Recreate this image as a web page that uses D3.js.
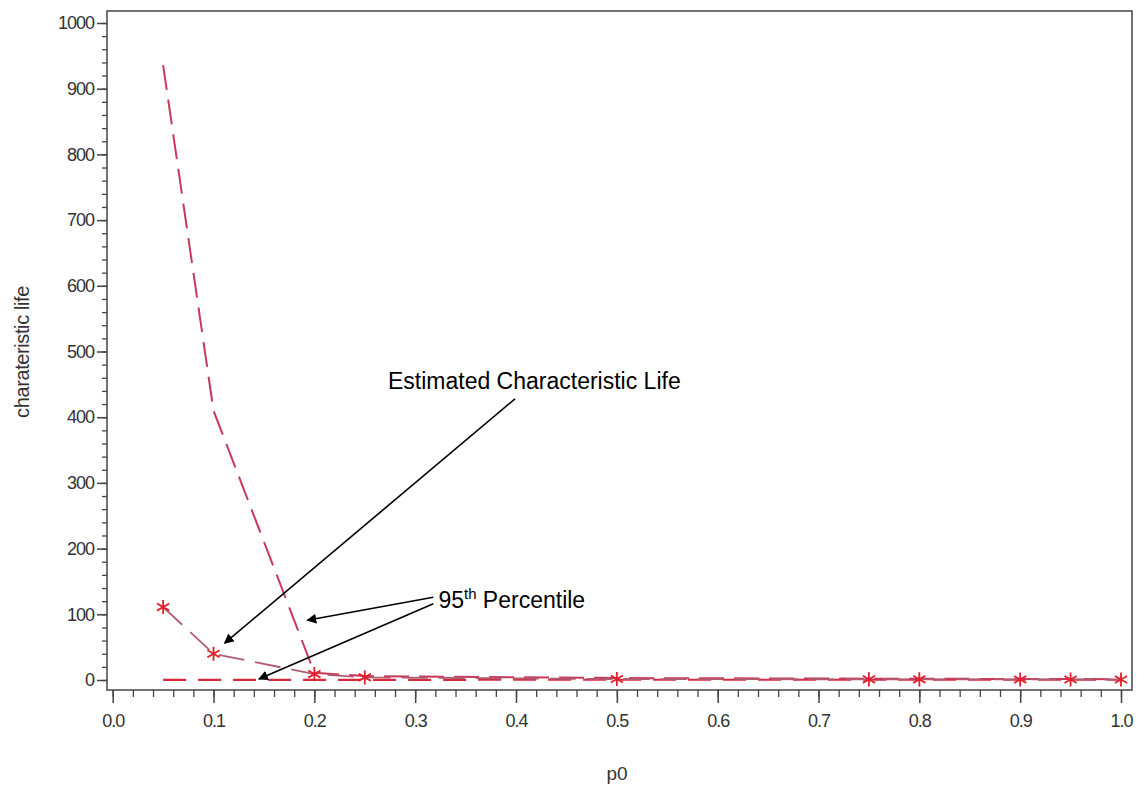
<!DOCTYPE html>
<html>
<head>
<meta charset="utf-8">
<script src="https://cdn.jsdelivr.net/npm/d3@7"></script>
<style>
  body { margin: 0; background: #fff; }
  svg { display: block; font-family: "Liberation Sans", Arial, sans-serif; }
  .tick text { font-size: 18px; letter-spacing: -1px; fill: #333; }
</style>
</head>
<body>
<svg width="1142" height="786"></svg>
<script>
// p0 values where the estimates were computed
var p0 = [0.05, 0.1, 0.2, 0.25, 0.5, 0.75, 0.8, 0.9, 0.95, 1.0];
// estimated characteristic life (star markers)
var charLife = [111, 40, 9, 4, 1.5, 1, 1, 0.8, 0.8, 0.7];
// upper and lower 95th percentile bounds
var upper95 = [936, 410, 11, 6, 3, 2, 2, 1.5, 1.5, 1.2];
var lower95 = [0.3, 0.3, 0.3, 0.3, 0.4, 0.4, 0.4, 0.4, 0.4, 0.4];

var xTicks = [0, 0.1, 0.2, 0.3, 0.4, 0.5, 0.6, 0.7, 0.8, 0.9, 1.0];
var yTicks = [0, 100, 200, 300, 400, 500, 600, 700, 800, 900, 1000];

var svg = d3.select("svg");

var frame = { left: 107, top: 11, right: 1132, bottom: 690 };

var x = d3.scaleLinear().domain([0, 1]).range([112.7, 1121]);
var y = d3.scaleLinear().domain([0, 1000]).range([680, 23]);

// plot frame
svg.append("rect")
  .attr("x", frame.left)
  .attr("y", frame.top)
  .attr("width", frame.right - frame.left)
  .attr("height", frame.bottom - frame.top)
  .attr("fill", "none")
  .attr("stroke", "#444")
  .attr("stroke-width", 1.5);

// x axis: major + minor ticks
var xMinor = d3.range(0, 1.0001, 0.02);
svg.append("g")
  .attr("transform", "translate(0," + frame.bottom + ")")
  .call(d3.axisBottom(x).tickValues(xMinor).tickSize(7).tickFormat(""))
  .call(function (g) { g.select(".domain").remove(); })
  .selectAll("line").attr("stroke", "#444").attr("stroke-width", 1.3);

svg.append("g")
  .attr("transform", "translate(0," + frame.bottom + ")")
  .call(d3.axisBottom(x).tickValues(xTicks).tickSize(13).tickPadding(11).tickFormat(d3.format(".1f")))
  .call(function (g) { g.select(".domain").remove(); })
  .call(function (g) { g.selectAll("line").attr("stroke", "#444").attr("stroke-width", 1.5); });

// y axis: major + minor ticks
var yMinor = d3.range(0, 1000.1, 20);
svg.append("g")
  .attr("transform", "translate(" + frame.left + ",0)")
  .call(d3.axisLeft(y).tickValues(yMinor).tickSize(5).tickFormat(""))
  .call(function (g) { g.select(".domain").remove(); })
  .selectAll("line").attr("stroke", "#444").attr("stroke-width", 1.3);

svg.append("g")
  .attr("transform", "translate(" + frame.left + ",0)")
  .call(d3.axisLeft(y).tickValues(yTicks).tickSize(10).tickPadding(3).tickFormat(d3.format("d")))
  .call(function (g) { g.select(".domain").remove(); })
  .call(function (g) { g.selectAll("line").attr("stroke", "#444").attr("stroke-width", 1.5); });

// axis titles
svg.append("text")
  .attr("x", 617)
  .attr("y", 780)
  .attr("text-anchor", "middle")
  .attr("font-size", 19)
  .attr("fill", "#333")
  .text("p0");

svg.append("text")
  .attr("transform", "translate(29,352) rotate(-90)")
  .attr("text-anchor", "middle")
  .attr("font-size", 20)
  .attr("letter-spacing", -0.4)
  .attr("fill", "#333")
  .text("charateristic life");

// series lines
var line = d3.line()
  .x(function (d) { return x(d[0]); })
  .y(function (d) { return y(d[1]); });

function pairs(vals) { return p0.map(function (p, i) { return [p, vals[i]]; }); }

svg.append("path")
  .datum(pairs(lower95))
  .attr("fill", "none")
  .attr("stroke", "#d42c3c")
  .attr("stroke-width", 2.2)
  .attr("stroke-dasharray", "23,12")
  .attr("d", line);

svg.append("path")
  .datum(pairs(upper95))
  .attr("fill", "none")
  .attr("stroke", "#c8385a")
  .attr("stroke-width", 2)
  .attr("stroke-dasharray", "25,10")
  .attr("d", line);

svg.append("path")
  .datum(pairs(charLife))
  .attr("fill", "none")
  .attr("stroke", "#b25a72")
  .attr("stroke-width", 1.8)
  .attr("stroke-dasharray", "26,11")
  .attr("d", line);

// star markers
var star = d3.symbol().type(d3.symbolAsterisk || d3.symbolCross).size(140);
svg.selectAll(".star")
  .data(pairs(charLife))
  .enter()
  .append("path")
  .attr("class", "star")
  .attr("transform", function (d) { return "translate(" + x(d[0]) + "," + y(d[1]) + ")"; })
  .attr("d", star)
  .attr("fill", "none")
  .attr("stroke", "#e0202a")
  .attr("stroke-width", 1.8);

// annotations
svg.append("defs").append("marker")
  .attr("id", "arrow")
  .attr("viewBox", "0 0 10 10")
  .attr("refX", 9)
  .attr("refY", 5)
  .attr("markerWidth", 10)
  .attr("markerHeight", 10)
  .attr("markerUnits", "userSpaceOnUse")
  .attr("orient", "auto")
  .append("path")
  .attr("d", "M0,0 L10,5 L0,10 z")
  .attr("fill", "#000");

var arrows = [
  { from: [0.399, 428], to: [0.111, 56] },
  { from: [0.318, 126], to: [0.193, 91] },
  { from: [0.318, 116], to: [0.145, 1.5] }
];

svg.selectAll(".arrow")
  .data(arrows)
  .enter()
  .append("line")
  .attr("class", "arrow")
  .attr("x1", function (d) { return x(d.from[0]); })
  .attr("y1", function (d) { return y(d.from[1]); })
  .attr("x2", function (d) { return x(d.to[0]); })
  .attr("y2", function (d) { return y(d.to[1]); })
  .attr("stroke", "#000")
  .attr("stroke-width", 1.6)
  .attr("marker-end", "url(#arrow)");

svg.append("text")
  .attr("x", x(0.273))
  .attr("y", y(443))
  .attr("font-size", 23)
  .attr("fill", "#000")
  .text("Estimated Characteristic Life");

var pct = svg.append("text")
  .attr("x", x(0.323))
  .attr("y", y(110))
  .attr("font-size", 23)
  .attr("fill", "#000");
pct.append("tspan").text("95");
pct.append("tspan").attr("font-size", 15).attr("dy", -9).text("th");
pct.append("tspan").attr("dy", 9).text(" Percentile");
</script>
</body>
</html>
